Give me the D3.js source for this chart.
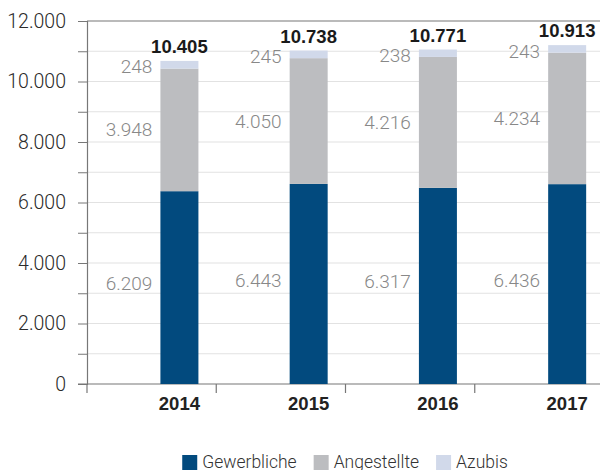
<!DOCTYPE html>
<html>
<head>
<meta charset="utf-8">
<script src="https://cdn.jsdelivr.net/npm/d3@7"></script>
<style>
  body { margin: 0; background: #fff; }
  svg { display: block; font-family: 'Liberation Sans', Arial, sans-serif; }
  .light { font-family: Roboto, 'Liberation Sans', sans-serif; font-weight: 300; }
</style>
</head>
<body>
<div id="chart"></div>
<script>
// Mitarbeiter nach Gruppen, 2014-2017
const years = ['2014', '2015', '2016', '2017'];
const gewerbliche = [6209, 6443, 6317, 6436];
const angestellte = [3948, 4050, 4216, 4234];
const azubis = [248, 245, 238, 243];
const totals = [10405, 10738, 10771, 10913];
const seriesNames = ['Gewerbliche', 'Angestellte', 'Azubis'];
const seriesColors = ['#024a7e', '#bcbdc0', '#d1d9ea'];
const yTickLabels = [0, 2000, 4000, 6000, 8000, 10000, 12000];
const yMinorTicks = d3.range(0, 12001, 1000);

let width = 600,
  height = 470,
  margin = { top: 21, left: 87, right: -4, bottom: 86 },
  plotW = width - margin.left - margin.right,
  plotH = height - margin.top - margin.bottom;

// German number format: 10.405
const de = d3.formatLocale({ decimal: ',', thousands: '.', grouping: [3], currency: ['', ' €'] });
const fmt = de.format(',d');

// build the table the stack needs
let table = years.map((y, i) => ({
  year: y,
  Gewerbliche: gewerbliche[i],
  Angestellte: angestellte[i],
  Azubis: azubis[i]
}));
let stacked = d3.stack().keys(seriesNames)(table);

let xScale = d3.scaleBand()
  .domain(years)
  .range([0, plotW]);

let yScale = d3.scaleLinear()
  .domain([0, 12000])
  .range([plotH, 0]);

// the bars in the original are drawn a bit taller than the axis says
let yBar = d3.scaleLinear()
  .domain([0, 11690])
  .range([plotH, 0]);

const barW = 38;
function barX(year) {
  return xScale(year) + xScale.bandwidth() * 0.568;
}
function barMid(year) {
  return barX(year) + barW / 2;
}

let svg = d3.select('#chart')
  .append('svg')
  .attr('width', width)
  .attr('height', height);

let g = svg.append('g')
  .attr('transform', 'translate(' + margin.left + ',' + margin.top + ')');

// grid lines every 1000
g.append('g')
  .selectAll('line')
  .data(yMinorTicks.filter(d => d > 0 && d < 12000))
  .join('line')
  .attr('x1', 0)
  .attr('x2', plotW)
  .attr('y1', d => yScale(d))
  .attr('y2', d => yScale(d))
  .attr('stroke', '#e2e2e2')
  .attr('stroke-width', 1.2);

// top frame line
g.append('line')
  .attr('x1', 0)
  .attr('x2', plotW)
  .attr('y1', yScale(12000))
  .attr('y2', yScale(12000))
  .attr('stroke', '#777')
  .attr('stroke-width', 1.2);

// Y axis, minor ticks without labels
let yAxis = g.append('g')
  .call(d3.axisLeft(yScale)
    .tickValues(yMinorTicks)
    .tickSize(9)
    .tickPadding(12)
    .tickFormat(d => yTickLabels.includes(d) ? fmt(d) : ''));
yAxis.select('.domain').attr('stroke', '#777').attr('stroke-width', 1.2);
yAxis.selectAll('.tick line').attr('stroke', '#777');
yAxis.selectAll('.tick text')
  .attr('class', 'light')
  .attr('fill', '#2a2a2a')
  .style('font-size', '19.5px');

// X axis with ticks hanging down at the band edges
let xAxis = g.append('g')
  .attr('transform', 'translate(0,' + plotH + ')');
xAxis.append('line')
  .attr('x1', -9)
  .attr('x2', plotW)
  .attr('stroke', '#777')
  .attr('stroke-width', 1.2);
xAxis.selectAll('.xtick')
  .data(years)
  .join('line')
  .attr('class', 'xtick')
  .attr('x1', d => xScale(d))
  .attr('x2', d => xScale(d))
  .attr('y1', 0)
  .attr('y2', 9)
  .attr('stroke', '#777')
  .attr('stroke-width', 1.2);
xAxis.selectAll('.xlabel')
  .data(years)
  .join('text')
  .attr('class', 'xlabel')
  .attr('x', d => barMid(d))
  .attr('y', 26)
  .attr('text-anchor', 'middle')
  .attr('fill', '#222')
  .style('font-size', '18.5px')
  .style('font-weight', 'bold')
  .text(d => d);

// stacked bars
let layers = g.append('g')
  .selectAll('g')
  .data(stacked)
  .join('g')
  .attr('fill', (d, i) => seriesColors[i]);

layers.selectAll('rect')
  .data(d => d)
  .join('rect')
  .attr('x', d => barX(d.data.year))
  .attr('width', barW)
  .attr('y', d => yBar(d[1]))
  .attr('height', d => yBar(d[0]) - yBar(d[1]));

// segment values left of each bar, baseline at the segment middle
layers.selectAll('text')
  .data(d => d.map(s => ({ s: s, v: s[1] - s[0] })))
  .join('text')
  .attr('class', 'light')
  .attr('x', d => barX(d.s.data.year) - 8)
  .attr('y', d => yScale((d.s[0] + d.s[1]) / 2))
  .attr('text-anchor', 'end')
  .attr('fill', '#888')
  .style('font-size', '19px')
  .text(d => fmt(d.v));

// totals above the bars
g.append('g')
  .selectAll('text')
  .data(years)
  .join('text')
  .attr('x', d => barMid(d))
  .attr('y', (d, i) => yBar(totals[i]) - 8)
  .attr('text-anchor', 'middle')
  .attr('fill', '#1a1a1a')
  .style('font-size', '18.5px')
  .style('font-weight', 'bold')
  .text((d, i) => fmt(totals[i]));

// legend, centred under the plot
let legend = svg.append('g');
let items = legend.selectAll('g')
  .data(seriesNames)
  .join('g');
items.append('rect')
  .attr('y', 455)
  .attr('width', 15)
  .attr('height', 15)
  .attr('fill', (d, i) => seriesColors[i]);
items.append('text')
  .attr('class', 'light')
  .attr('x', 20)
  .attr('y', 468)
  .attr('fill', '#333')
  .style('font-size', '17.5px')
  .text(d => d);

let cursor = 0;
items.each(function () {
  let item = d3.select(this);
  item.attr('transform', 'translate(' + cursor + ',0)');
  cursor += 20 + item.select('text').node().getComputedTextLength() + 17;
});
cursor -= 17;
legend.attr('transform', 'translate(' + (margin.left + 258 - cursor / 2) + ',0)');
</script>
</body>
</html>
